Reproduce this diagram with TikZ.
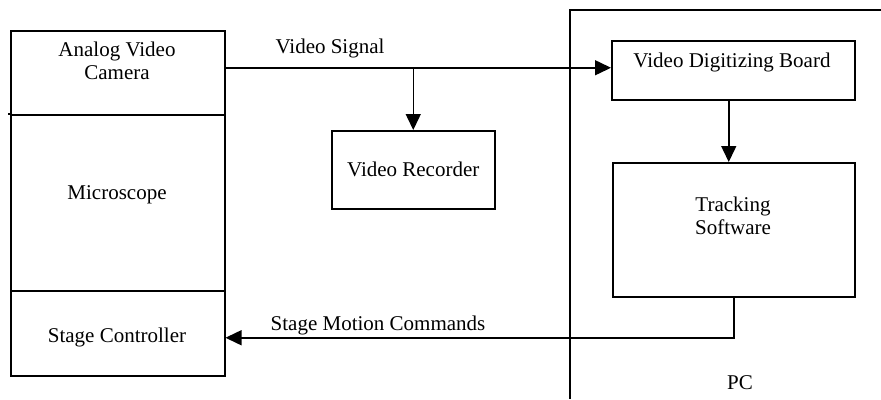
\documentclass[tikz,border=0pt]{standalone}
\usepackage{fontspec}
\setmainfont{Liberation Serif}
\usetikzlibrary{arrows.meta,calc}
\begin{document}
\begin{tikzpicture}[x=1pt,y=-1pt,
  line width=1.5pt,
  every node/.style={font=\fontsize{21}{23}\selectfont},
  cell/.style={draw,rectangle,inner sep=0pt,minimum width=#1},
  txt/.style={align=center,inner sep=0pt},
  arr/.style={-{Triangle[length=16pt,width=15pt]}}]
\useasboundingbox (0,0) rectangle (881,399);
% instrument stack on the left
\node[cell=214pt,minimum height=84pt,anchor=north west] (cam) at (10,30) {};
\node[cell=214pt,minimum height=176pt,anchor=north west] (mic) at (10,114) {};
\node[cell=214pt,minimum height=85pt,anchor=north west] (stage) at (10,290) {};
\draw (8,114) -- (mic.north west);
\node[txt] (camtxt) at (117,61) {Analog Video\\Camera};
\node[txt] (mictxt) at (117,195) {Microscope};
\node[txt] (stagetxt) at (117,337) {Stage Controller};
% recorder
\node[cell=163pt,minimum height=78pt,anchor=north west] (rec) at (331,130) {};
\node[txt] (rectxt) at (rec.center) {Video Recorder};
% PC frame
\coordinate (pcc) at (570,10);
\draw (881,10) -- (pcc) -- (570,399);
\node[txt] (pctxt) at (740,383) {PC};
\node[cell=243pt,minimum height=59pt,anchor=north west] (dig) at (611,40) {};
\node[txt] (digtxt) at (732,62) {Video Digitizing Board};
\node[cell=242pt,minimum height=134pt,anchor=north west] (trk) at (612,162) {};
\node[txt] (trktxt) at (733,216) {Tracking\\Software};
% connectors
\coordinate (sigstart) at ([yshift=5pt]cam.east);
\coordinate (tap) at (sigstart -| rec.north);
\coordinate (trkin) at ([xshift=-5pt]trk.north);
\draw[arr] (sigstart) -- (sigstart -| dig.west);
\draw[arr] (tap) -- (rec.north);
\draw[arr] (trkin |- dig.south) -- (trkin);
\coordinate (cmdend) at ([yshift=-4.5pt]stage.east);
\draw[arr] (trk.south) |- (cmdend);
\node[txt] (siglbl) at (330,48) {Video Signal};
\node[txt] (cmdlbl) at (378,325) {Stage Motion Commands};
\end{tikzpicture}
\end{document}
